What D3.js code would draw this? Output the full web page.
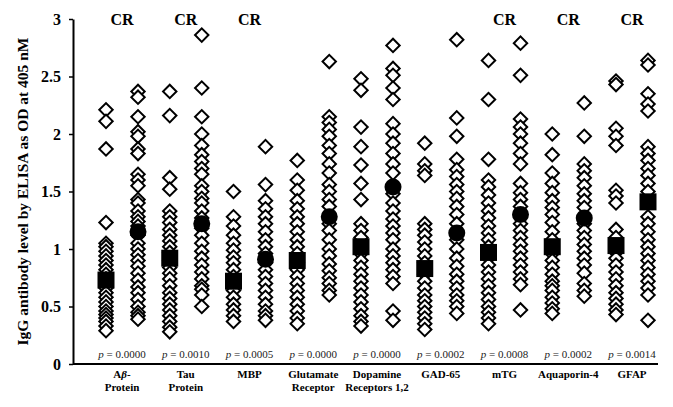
<!DOCTYPE html>
<html><head><meta charset="utf-8">
<script src="https://cdn.jsdelivr.net/npm/d3@7"></script>
<style>body{margin:0;background:#fff}svg{display:block}</style>
</head><body>
<svg id="c" width="673" height="407"></svg>
<script>
const categories = ["Aβ-Protein","Tau Protein","MBP","Glutamate Receptor","Dopamine Receptors 1,2","GAD-65","mTG","Aquaporin-4","GFAP"];
const labelLines = [["Aβ-","Protein"],["Tau","Protein"],["MBP"],["Glutamate","Receptor"],["Dopamine","Receptors 1,2"],["GAD-65"],["mTG"],["Aquaporin-4"],["GFAP"]];
const pValues = ["0.0000","0.0010","0.0005","0.0000","0.0000","0.0002","0.0008","0.0002","0.0014"];
const crFlag = [true,true,true,false,false,false,true,true,true];
const yTicks = [0,0.5,1,1.5,2,2.5,3];

const controlValues = [
  [2.21,2.11,1.87,1.23,1.05,1.02,0.98,0.94,0.90,0.86,0.82,0.78,0.74,0.70,0.66,0.62,0.58,0.54,0.50,0.46,0.43,0.40,0.37,0.33,0.29],
  [2.37,2.16,1.62,1.52,1.33,1.28,1.23,1.17,1.12,1.07,1.02,0.97,0.90,0.84,0.79,0.74,0.68,0.62,0.57,0.52,0.47,0.42,0.37,0.32,0.28],
  [1.50,1.28,1.20,1.12,1.05,0.99,0.93,0.88,0.82,0.76,0.70,0.64,0.58,0.52,0.47,0.42,0.37],
  [1.77,1.60,1.51,1.42,1.35,1.28,1.22,1.15,1.08,1.02,0.96,0.88,0.82,0.76,0.70,0.64,0.58,0.52,0.46,0.40,0.35],
  [2.48,2.38,2.06,1.89,1.73,1.57,1.43,1.22,1.16,1.10,0.96,0.90,0.84,0.78,0.72,0.66,0.60,0.54,0.48,0.42,0.37,0.33],
  [1.92,1.74,1.68,1.64,1.22,1.17,1.12,1.06,1.00,0.94,0.88,0.78,0.72,0.66,0.60,0.55,0.50,0.45,0.40,0.35,0.30],
  [2.64,2.30,1.78,1.60,1.54,1.47,1.40,1.33,1.27,1.20,1.14,1.08,1.02,0.92,0.86,0.80,0.74,0.68,0.62,0.56,0.50,0.45,0.40,0.35],
  [2.00,1.82,1.66,1.57,1.49,1.42,1.36,1.30,1.23,1.15,1.08,0.96,0.90,0.84,0.78,0.72,0.68,0.64,0.58,0.53,0.48,0.44],
  [2.46,2.43,2.05,1.98,1.90,1.51,1.46,1.40,1.17,1.10,0.97,0.92,0.86,0.80,0.74,0.68,0.62,0.57,0.52,0.47,0.43]
];
const patientValues = [
  [2.37,2.32,2.15,2.02,1.98,1.87,1.83,1.65,1.60,1.55,1.43,1.40,1.33,1.28,1.24,1.20,1.12,1.05,1.00,0.95,0.90,0.85,0.79,0.73,0.67,0.62,0.56,0.50,0.45,0.42,0.39],
  [2.86,2.40,2.15,2.00,1.90,1.82,1.76,1.70,1.65,1.55,1.50,1.44,1.40,1.33,1.27,1.18,1.12,1.05,0.98,0.92,0.86,0.80,0.74,0.68,0.65,0.60,0.50],
  [1.89,1.56,1.42,1.35,1.28,1.22,1.15,1.08,1.02,0.96,0.88,0.82,0.76,0.70,0.64,0.58,0.52,0.46,0.42,0.38],
  [2.63,2.15,2.10,2.04,1.98,1.90,1.83,1.74,1.66,1.56,1.50,1.43,1.37,1.22,1.16,1.08,1.00,0.94,0.87,0.81,0.75,0.70,0.64,0.60],
  [2.77,2.57,2.51,2.40,2.30,2.09,2.00,1.92,1.83,1.74,1.66,1.48,1.40,1.33,1.26,1.20,1.14,1.08,1.00,0.94,0.88,0.82,0.76,0.70,0.46,0.38],
  [2.82,2.14,1.98,1.78,1.69,1.63,1.56,1.50,1.44,1.37,1.30,1.22,1.08,1.00,0.92,0.85,0.78,0.72,0.66,0.60,0.55,0.50,0.44],
  [2.79,2.51,2.13,2.06,2.00,1.92,1.83,1.74,1.57,1.49,1.43,1.37,1.22,1.16,1.10,1.04,0.98,0.92,0.86,0.80,0.74,0.69,0.47],
  [2.27,1.98,1.74,1.68,1.62,1.55,1.48,1.42,1.36,1.22,1.16,1.10,1.04,0.98,0.92,0.86,0.79,0.70,0.64,0.59],
  [2.64,2.60,2.35,2.26,2.20,1.89,1.83,1.77,1.70,1.64,1.57,1.50,1.28,1.22,1.15,1.08,1.02,0.96,0.90,0.84,0.78,0.72,0.66,0.60,0.38]
];
const controlMeans = [0.73,0.92,0.72,0.90,1.02,0.83,0.97,1.02,1.03];
const patientMeans = [1.15,1.22,0.91,1.28,1.54,1.14,1.30,1.27,1.41];
const patientMeanShape = ["circle","circle","circle","circle","circle","circle","circle","circle","square"];

const svg = d3.select("#c");
const serif = "'Liberation Serif','DejaVu Serif',serif";
const x = d3.scalePoint().domain(categories).range([122, 632]);
const y = d3.scaleLinear().domain([0,3]).range([364, 19]);
const off = 16;

// y axis
const yAxis = svg.append("g").attr("transform","translate(73,0)")
  .call(d3.axisLeft(y).tickValues(yTicks).tickFormat(d=>d).tickSize(4).tickSizeOuter(0));
yAxis.select(".domain").attr("stroke","#000").attr("stroke-width",2);
yAxis.selectAll(".tick line").attr("stroke","#000").attr("stroke-width",1.5);
yAxis.selectAll(".tick text").attr("font-family",serif).attr("font-weight","bold").attr("font-size",16).attr("fill","#000").attr("x",-12);

// x axis line
svg.append("line").attr("x1",73).attr("x2",658).attr("y1",y(0)).attr("y2",y(0)).attr("stroke","#000").attr("stroke-width",2);

// y title
svg.append("text").attr("transform","translate(28,"+ (y(1.5)) +") rotate(-90)")
  .attr("text-anchor","middle").attr("font-family",serif).attr("font-weight","bold").attr("font-size",15.5)
  .text("IgG antibody level by ELISA as OD at 405 nM");

const diamond = d3.symbol().type(d3.symbolDiamond2).size(120);
function drawPoints(vals, dx){
  vals.forEach((arr,i)=>{
    svg.append("g").selectAll("path").data(arr).join("path")
      .attr("d", d3.symbol().type(d3.symbolSquare).size(90))
      .attr("transform", d=>`translate(${x(categories[i])+dx},${y(d)}) rotate(45)`)
      .attr("fill","#fff").attr("stroke","#000").attr("stroke-width",2);
  });
}
drawPoints(controlValues, -off);
drawPoints(patientValues, off);

// means
svg.append("g").selectAll("rect").data(controlMeans).join("rect")
  .attr("x",(d,i)=>x(categories[i])-off-8.5).attr("y",d=>y(d)-8.5)
  .attr("width",17).attr("height",17).attr("fill","#000");
patientMeans.forEach((d,i)=>{
  if(patientMeanShape[i]==="circle"){
    svg.append("circle").attr("cx",x(categories[i])+off).attr("cy",y(d)).attr("r",8.5).attr("fill","#000");
  } else {
    svg.append("rect").attr("x",x(categories[i])+off-8.5).attr("y",y(d)-8.5).attr("width",17).attr("height",17).attr("fill","#000");
  }
});

// CR labels
categories.forEach((c,i)=>{
  if(crFlag[i]) svg.append("text").attr("x",x(c)).attr("y",25).attr("text-anchor","middle")
    .attr("font-family",serif).attr("font-weight","bold").attr("font-size",16).text("CR");
});

// p values
categories.forEach((c,i)=>{
  const t = svg.append("text").attr("x",x(c)).attr("y",358).attr("text-anchor","middle")
    .attr("font-family",serif).attr("font-size",11).attr("fill","#222");
  t.append("tspan").attr("font-style","italic").text("p");
  t.append("tspan").text(" = "+pValues[i]);
});

// x labels
categories.forEach((c,i)=>{
  labelLines[i].forEach((ln,j)=>{
    const t = svg.append("text").attr("x",x(c)).attr("y",378+j*13).attr("text-anchor","middle")
      .attr("font-family",serif).attr("font-weight","bold").attr("font-size",11);
    if(ln.startsWith("Aβ")){
      t.append("tspan").text("A");
      t.append("tspan").attr("font-style","italic").text("β");
      t.append("tspan").text("-");
    } else t.text(ln);
  });
});
</script>
</body></html>
